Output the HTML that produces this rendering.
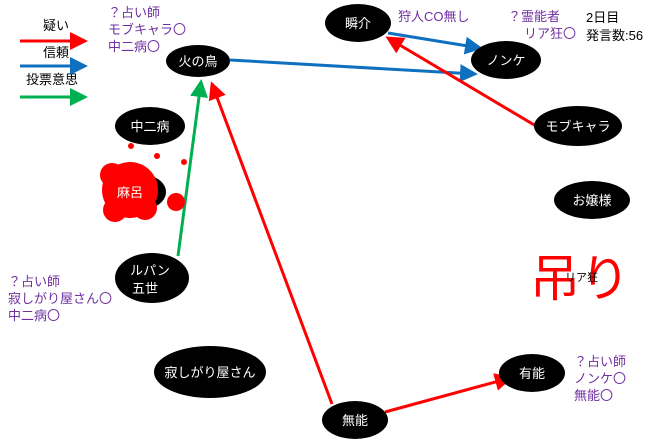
<!DOCTYPE html>
<html><head><meta charset="utf-8"><style>
body{margin:0;background:#fff;}
svg text{font-family:"Liberation Sans","Noto Sans CJK JP",sans-serif;}
</style></head><body>
<svg width="660" height="440" viewBox="0 0 660 440" xmlns="http://www.w3.org/2000/svg">
<defs>
<marker id="r" markerWidth="6" markerHeight="6" refX="5" refY="3" orient="auto" markerUnits="strokeWidth"><path d="M0,0 L6,3 L0,6z" fill="#f00"/></marker>
<marker id="b" markerWidth="6" markerHeight="6" refX="5" refY="3" orient="auto" markerUnits="strokeWidth"><path d="M0,0 L6,3 L0,6z" fill="#1070c0"/></marker>
<marker id="g" markerWidth="6" markerHeight="6" refX="5" refY="3" orient="auto" markerUnits="strokeWidth"><path d="M0,0 L6,3 L0,6z" fill="#00b050"/></marker>
</defs>
<g font-size="13" fill="#000">
<text x="43" y="30">疑い</text>
<text x="43" y="57">信頼</text>
<text x="26" y="84">投票意思</text>
</g>
<line x1="20" y1="41" x2="85" y2="41" stroke="#f00" stroke-width="3" marker-end="url(#r)"/>
<line x1="20" y1="66" x2="85" y2="66" stroke="#1070c0" stroke-width="3" marker-end="url(#b)"/>
<line x1="20" y1="97" x2="85" y2="97" stroke="#00b050" stroke-width="3" marker-end="url(#g)"/>

<g fill="#7030a0" font-size="13">
<text x="108" y="17">？占い師</text>
<text x="108" y="34">モブキャラ〇</text>
<text x="108" y="51">中二病〇</text>
<text x="398" y="21">狩人CO無し</text>
<text x="508" y="21">？霊能者</text>
<text x="524" y="38">リア狂〇</text>
<text x="8" y="286">？占い師</text>
<text x="8" y="303">寂しがり屋さん〇</text>
<text x="8" y="320">中二病〇</text>
<text x="574" y="366">？占い師</text>
<text x="574" y="383">ノンケ〇</text>
<text x="574" y="400">無能〇</text>
</g>
<g font-size="13" fill="#000">
<text x="586" y="22">2日目</text>
<text x="586" y="40">発言数:56</text>
</g>

<line x1="230" y1="60" x2="475" y2="74" stroke="#1070c0" stroke-width="3" marker-end="url(#b)"/>
<line x1="388" y1="33" x2="480" y2="48" stroke="#1070c0" stroke-width="3" marker-end="url(#b)"/>
<line x1="536" y1="126" x2="388" y2="38" stroke="#f00" stroke-width="3" marker-end="url(#r)"/>
<line x1="178" y1="256" x2="201" y2="82" stroke="#00b050" stroke-width="3" marker-end="url(#g)"/>
<line x1="332" y1="404" x2="212" y2="84" stroke="#f00" stroke-width="3" marker-end="url(#r)"/>
<line x1="385" y1="412" x2="510" y2="378" stroke="#f00" stroke-width="3" marker-end="url(#r)"/>

<g fill="#000">
<ellipse cx="198" cy="61" rx="32" ry="16"/>
<ellipse cx="150" cy="126" rx="35" ry="19"/>
<ellipse cx="140" cy="192" rx="26" ry="18"/>
<ellipse cx="152" cy="278" rx="37" ry="25"/>
<ellipse cx="210" cy="372" rx="56" ry="26"/>
<ellipse cx="355" cy="420" rx="33" ry="19"/>
<ellipse cx="532" cy="373" rx="33" ry="19"/>
<ellipse cx="358" cy="23" rx="33" ry="19"/>
<ellipse cx="506" cy="60" rx="35" ry="19"/>
<ellipse cx="578" cy="126" rx="44" ry="20"/>
<ellipse cx="592" cy="200" rx="38" ry="19"/>
</g>
<g fill="#f00">
<circle cx="130" cy="190" r="28"/>
<circle cx="112" cy="175" r="12"/>
<circle cx="115" cy="210" r="12"/>
<circle cx="145" cy="208" r="12"/>
<circle cx="176" cy="202" r="9"/>
<circle cx="131" cy="146" r="3"/>
<circle cx="157" cy="156" r="3"/>
<circle cx="184" cy="162" r="3"/>
</g>
<g fill="#fff" font-size="13" text-anchor="middle">
<text x="198" y="66">火の鳥</text>
<text x="150" y="131">中二病</text>
<text x="130" y="197">麻呂</text>
<text x="150" y="275">ルパン</text>
<text x="145" y="293">五世</text>
<text x="210" y="377">寂しがり屋さん</text>
<text x="355" y="425">無能</text>
<text x="532" y="378">有能</text>
<text x="358" y="28">瞬介</text>
<text x="506" y="65">ノンケ</text>
<text x="578" y="131">モブキャラ</text>
<text x="592" y="205">お嬢様</text>
</g>
<text x="530" y="296" font-size="50" fill="#f00">吊り</text>
<text x="565" y="281" font-size="11" fill="#000">リア狂</text>
</svg>
</body></html>
